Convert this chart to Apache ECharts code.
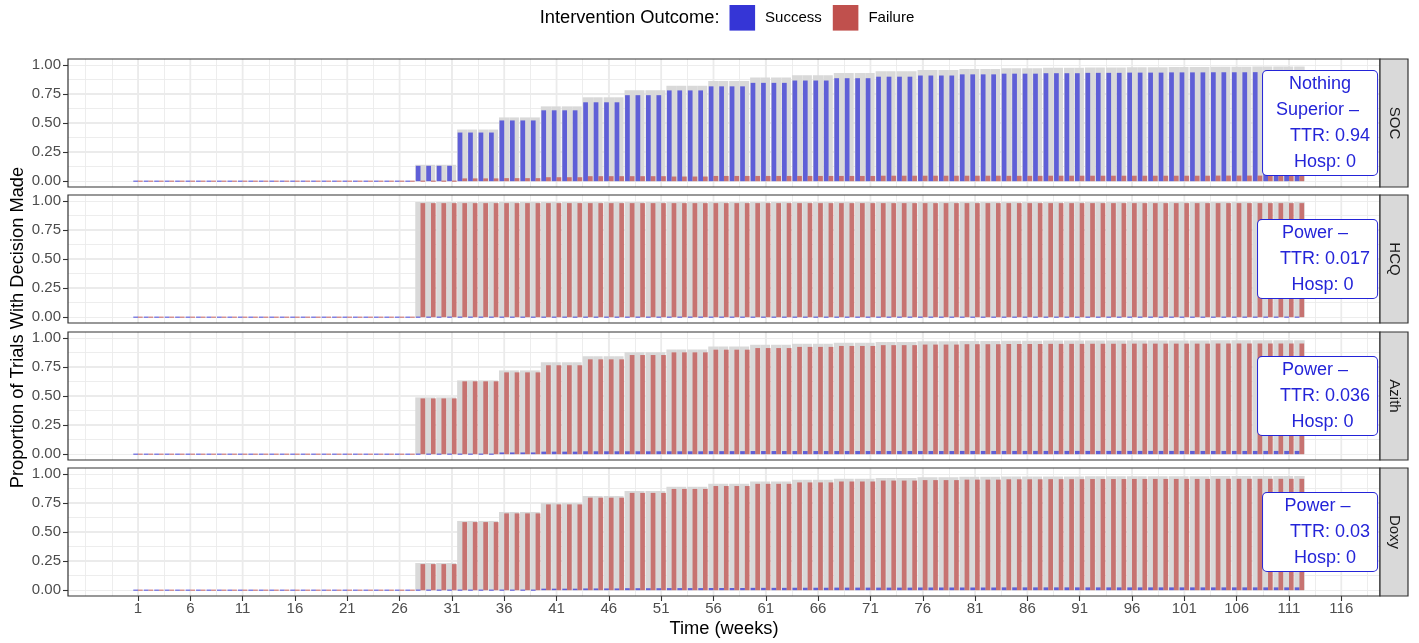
<!DOCTYPE html>
<html>
<head>
<meta charset="utf-8">
<script src="https://cdn.jsdelivr.net/npm/echarts@6/dist/echarts.min.js"></script>
<style>
html,body{margin:0;padding:0;background:#ffffff;}
#chart{width:1419px;height:643px;}
</style>
</head>
<body>
<div id="chart"></div>
<script>
// ---------------- DATA ----------------
const facets = ['SOC', 'HCQ', 'Azith', 'Doxy'];
const firstWeek = 1;
const lastWeek = 112;
// weeks at which a new interim value starts (values constant until the next start)
const periodStartWeeks = [1, 28, 32, 36, 40, 44, 48, 52, 56, 60, 64, 68, 72, 76, 80, 84, 88, 92, 96, 100, 104, 108, 112];

const socTotal   = [0, 0.141, 0.444, 0.548, 0.643, 0.721, 0.782, 0.820, 0.860, 0.890, 0.910, 0.930, 0.945, 0.955, 0.965, 0.970, 0.975, 0.978, 0.980, 0.982, 0.984, 0.985, 0.986];
const socSuccess = [0, 0.132, 0.418, 0.522, 0.609, 0.678, 0.739, 0.780, 0.815, 0.845, 0.865, 0.885, 0.898, 0.908, 0.918, 0.924, 0.928, 0.931, 0.933, 0.935, 0.936, 0.937, 0.938];
const socFailure = [0, 0.006, 0.024, 0.026, 0.034, 0.043, 0.043, 0.040, 0.045, 0.045, 0.045, 0.045, 0.047, 0.047, 0.047, 0.046, 0.047, 0.047, 0.047, 0.047, 0.048, 0.048, 0.048];

const hcqTotal   = [0, 0.990, 0.990, 0.990, 0.990, 0.990, 0.990, 0.990, 0.990, 0.990, 0.990, 0.990, 0.990, 0.990, 0.990, 0.990, 0.990, 0.990, 0.990, 0.990, 0.990, 0.990, 0.990];
const hcqSuccess = [0, 0.008, 0.008, 0.009, 0.009, 0.009, 0.009, 0.009, 0.009, 0.009, 0.009, 0.009, 0.009, 0.009, 0.009, 0.009, 0.009, 0.009, 0.009, 0.009, 0.009, 0.009, 0.009];
const hcqFailure = [0, 0.980, 0.980, 0.980, 0.980, 0.980, 0.980, 0.980, 0.980, 0.980, 0.980, 0.980, 0.980, 0.980, 0.980, 0.980, 0.980, 0.980, 0.980, 0.980, 0.980, 0.980, 0.980];

const azithTotal   = [0, 0.488, 0.634, 0.720, 0.790, 0.841, 0.875, 0.900, 0.925, 0.940, 0.950, 0.958, 0.965, 0.970, 0.973, 0.975, 0.976, 0.977, 0.978, 0.978, 0.979, 0.979, 0.979];
const azithSuccess = [0, 0.005, 0.008, 0.015, 0.022, 0.025, 0.025, 0.025, 0.026, 0.027, 0.027, 0.027, 0.027, 0.027, 0.028, 0.028, 0.028, 0.028, 0.028, 0.028, 0.028, 0.028, 0.028];
const azithFailure = [0, 0.479, 0.626, 0.703, 0.764, 0.815, 0.852, 0.875, 0.898, 0.912, 0.922, 0.930, 0.937, 0.942, 0.945, 0.947, 0.948, 0.949, 0.950, 0.950, 0.951, 0.951, 0.951];

const doxyTotal   = [0, 0.233, 0.595, 0.672, 0.750, 0.810, 0.853, 0.888, 0.914, 0.935, 0.948, 0.957, 0.965, 0.970, 0.974, 0.977, 0.978, 0.979, 0.980, 0.980, 0.981, 0.981, 0.981];
const doxySuccess = [0, 0.004, 0.008, 0.010, 0.013, 0.015, 0.017, 0.018, 0.019, 0.020, 0.021, 0.022, 0.022, 0.023, 0.023, 0.024, 0.024, 0.024, 0.024, 0.024, 0.024, 0.024, 0.024];
const doxyFailure = [0, 0.224, 0.585, 0.660, 0.737, 0.795, 0.836, 0.870, 0.895, 0.914, 0.926, 0.934, 0.942, 0.946, 0.950, 0.953, 0.954, 0.955, 0.956, 0.956, 0.957, 0.957, 0.957];

const socLabel   = ['Nothing', 'Superior \u2013 ', '    TTR: 0.94', '  Hosp: 0'];
const hcqLabel   = ['Power \u2013 ', '   TTR: 0.017', '  Hosp: 0'];
const azithLabel = ['Power \u2013 ', '   TTR: 0.036', '  Hosp: 0'];
const doxyLabel  = ['Power \u2013 ', '    TTR: 0.03', '  Hosp: 0'];

const xTickWeeks = [1, 6, 11, 16, 21, 26, 31, 36, 41, 46, 51, 56, 61, 66, 71, 76, 81, 86, 91, 96, 101, 106, 111, 116];
const yTickValues = [0, 0.25, 0.5, 0.75, 1];

const legendTitle = 'Intervention Outcome:';
const legendNames = ['Success', 'Failure'];
const xTitle = 'Time (weeks)';
const yTitle = 'Proportion of Trials With Decision Made';

// ---------------- STYLE / LAYOUT ----------------
const FONT = '"Liberation Sans", Arial, Helvetica, sans-serif';
const SUCCESS = '#3535D6';
const FAILURE = '#C0504D';
const SUCCESS_FILL = 'rgba(53,53,214,0.75)';
const FAILURE_FILL = 'rgba(192,80,77,0.75)';
const TOTAL_FILL = '#D9D9D9';
const GRID_COLOR = '#EBEBEB';
const LABEL_BLUE = '#2424D8';
const xMin = -5.69, xMax = 119.7, yMin = -0.05, yMax = 1.05;
const labelRightWeek = 119.42, labelY = 0.5;
const G = { left: 68, right: 1380, tops: [59, 195, 332, 468], h: 128, stripW: 28 };

const panelData = [
  { total: socTotal, success: socSuccess, failure: socFailure, label: socLabel },
  { total: hcqTotal, success: hcqSuccess, failure: hcqFailure, label: hcqLabel },
  { total: azithTotal, success: azithSuccess, failure: azithFailure, label: azithLabel },
  { total: doxyTotal, success: doxySuccess, failure: doxyFailure, label: doxyLabel }
];

const weeks = [];
for (let w = firstWeek; w <= lastWeek; w++) weeks.push(w);
function periodIndex(w) {
  let k = 0;
  for (let i = 0; i < periodStartWeeks.length; i++) if (periodStartWeeks[i] <= w) k = i;
  return k;
}
function weekly(arr) { return weeks.map(w => [w, arr[periodIndex(w)]]); }

const measureCtx = document.createElement('canvas').getContext('2d');
const LABEL_FONT_SIZE = 18;
measureCtx.font = LABEL_FONT_SIZE + 'px ' + FONT;

function barRenderer(kind) {
  return function (params, api) {
    const w = api.value(0), v = api.value(1);
    let x0, x1, fill;
    if (kind === 'total') { x0 = w - 0.5; x1 = w + 0.5; fill = TOTAL_FILL; }
    else if (kind === 'success') { x0 = w - 0.45; x1 = w; fill = SUCCESS_FILL; }
    else { x0 = w; x1 = w + 0.45; fill = FAILURE_FILL; }
    const pA = api.coord([x0, 0]);
    const pB = api.coord([x1, v]);
    let h = pA[1] - pB[1];
    let width = pB[0] - pA[0];
    let y = pB[1];
    if (kind === 'total') {
      if (h <= 0) return null;
      if (w % 2 === 1) width -= 1; // white seam every two weeks as in the reference
    } else if (h < 1.2) {
      h = 1.2;
      y = pA[1] - 0.6;
    }
    return { type: 'rect', shape: { x: pA[0], y: y, width: width, height: h }, style: { fill: fill } };
  };
}

function labelRenderer(lines) {
  return function (params, api) {
    const p = api.coord([api.value(0), api.value(1)]);
    const padX = 7;
    let maxW = 0;
    lines.forEach(l => { maxW = Math.max(maxW, measureCtx.measureText(l).width); });
    const boxW = maxW + 2 * padX;
    return {
      type: 'text',
      x: p[0] - boxW / 2,
      y: p[1],
      style: {
        text: lines.join('\n'),
        fill: LABEL_BLUE,
        font: LABEL_FONT_SIZE + 'px ' + FONT,
        align: 'center',
        verticalAlign: 'middle',
        lineHeight: 26,
        backgroundColor: '#ffffff',
        borderColor: LABEL_BLUE,
        borderWidth: 1,
        borderRadius: 4,
        padding: [0, padX, 0, padX]
      }
    };
  };
}

const option = {
  animation: false,
  backgroundColor: '#ffffff',
  textStyle: { fontFamily: FONT },
  grid: [], xAxis: [], yAxis: [], series: [], graphic: [],
  legend: {
    show: true, left: 729.5, top: 5, padding: 0,
    itemWidth: 25.6, itemHeight: 25.6, itemGap: 11, icon: 'rect', selectedMode: false,
    textStyle: { fontSize: 15, color: '#000000', fontFamily: FONT, padding: [0, 0, 0, 5] },
    data: [
      { name: legendNames[0], itemStyle: { color: SUCCESS, opacity: 1 } },
      { name: legendNames[1], itemStyle: { color: FAILURE, opacity: 1 } }
    ]
  }
};

facets.forEach((name, i) => {
  const top = G.tops[i];
  const isBottom = i === facets.length - 1;
  option.grid.push({ left: G.left, top: top, width: G.right - G.left, height: G.h, show: false, containLabel: false });

  option.xAxis.push({
    type: 'value', gridIndex: i, position: 'top', min: xMin - 1, max: xMax - 1, minInterval: 2.5, maxInterval: 2.5,
    axisLine: { show: false, onZero: false }, axisTick: { show: false }, axisLabel: { show: false },
    splitLine: { show: true, showMinLine: false, showMaxLine: false, lineStyle: { color: GRID_COLOR, width: 0.9 } }
  });
  const xMain = option.xAxis.length;
  option.xAxis.push({
    type: 'value', gridIndex: i, position: 'bottom', min: xMin, max: xMax,
    axisLine: { show: false, onZero: false }, splitLine: { show: false },
    axisTick: { show: isBottom, customValues: xTickWeeks, length: 5, lineStyle: { color: '#333333', width: 1.1 } },
    axisLabel: { show: isBottom, customValues: xTickWeeks, margin: 5, color: '#4D4D4D', fontSize: 15, fontFamily: FONT,
      formatter: v => String(v) }
  });

  option.yAxis.push({
    type: 'value', gridIndex: i, position: 'right', min: yMin, max: yMax, minInterval: 0.125, maxInterval: 0.125,
    axisLine: { show: false, onZero: false }, axisTick: { show: false }, axisLabel: { show: false },
    splitLine: { show: true, showMinLine: false, showMaxLine: false, lineStyle: { color: GRID_COLOR, width: 0.9 } }
  });
  const yMain = option.yAxis.length;
  option.yAxis.push({
    type: 'value', gridIndex: i, position: 'left', min: yMin, max: yMax, minInterval: 0.25, maxInterval: 0.25,
    axisLine: { show: false, onZero: false },
    splitLine: { show: true, showMinLine: false, showMaxLine: false, lineStyle: { color: GRID_COLOR, width: 1.8 } },
    axisTick: { show: true, customValues: yTickValues, length: 5, lineStyle: { color: '#333333', width: 1.1 } },
    axisLabel: { show: true, customValues: yTickValues, margin: 7, color: '#4D4D4D', fontSize: 15, fontFamily: FONT,
      formatter: v => Number(v).toFixed(2) }
  });

  const pd = panelData[i];
  // major vertical grid lines at the labelled weeks
  option.series.push({
    type: 'custom', name: 'grid-' + name, xAxisIndex: xMain, yAxisIndex: yMain, silent: true,
    data: xTickWeeks.map(w => [w, 0]),
    renderItem: (params, api) => {
      const a = api.coord([api.value(0), yMin]);
      const b = api.coord([api.value(0), yMax]);
      return { type: 'line', shape: { x1: a[0], y1: a[1], x2: b[0], y2: b[1] }, style: { stroke: GRID_COLOR, lineWidth: 1.8 } };
    }
  });
  option.series.push({ type: 'custom', name: 'total-' + name, xAxisIndex: xMain, yAxisIndex: yMain, silent: true,
    data: weekly(pd.total), renderItem: barRenderer('total') });
  option.series.push({ type: 'custom', name: legendNames[0], xAxisIndex: xMain, yAxisIndex: yMain, silent: true,
    itemStyle: { color: SUCCESS }, data: weekly(pd.success), renderItem: barRenderer('success') });
  option.series.push({ type: 'custom', name: legendNames[1], xAxisIndex: xMain, yAxisIndex: yMain, silent: true,
    itemStyle: { color: FAILURE }, data: weekly(pd.failure), renderItem: barRenderer('failure') });
  option.series.push({ type: 'custom', name: 'label-' + name, xAxisIndex: xMain, yAxisIndex: yMain, silent: true,
    data: [[labelRightWeek, labelY]], renderItem: labelRenderer(pd.label) });

  // panel border
  option.graphic.push({ type: 'rect', z: 100, silent: true,
    shape: { x: G.left, y: top, width: G.right - G.left, height: G.h },
    style: { fill: 'none', stroke: '#333333', lineWidth: 1.2 } });
  // strip
  option.graphic.push({ type: 'rect', z: 100, silent: true,
    shape: { x: G.right, y: top, width: G.stripW, height: G.h },
    style: { fill: '#D9D9D9', stroke: '#333333', lineWidth: 1.2 } });
  option.graphic.push({ type: 'text', z: 101, silent: true,
    x: G.right + G.stripW / 2, y: top + G.h / 2, rotation: -Math.PI / 2,
    style: { text: name, fill: '#1A1A1A', font: '15px ' + FONT, align: 'center', verticalAlign: 'middle' } });
});

option.graphic.push({ type: 'text', z: 101, silent: true, x: 719.5, y: 18,
  style: { text: legendTitle, fill: '#000000', font: '18.3px ' + FONT, align: 'right', verticalAlign: 'middle' } });
option.graphic.push({ type: 'text', z: 101, silent: true, x: (G.left + G.right) / 2, y: 629,
  style: { text: xTitle, fill: '#000000', font: '18.3px ' + FONT, align: 'center', verticalAlign: 'middle' } });
option.graphic.push({ type: 'text', z: 101, silent: true, x: 18, y: (G.tops[0] + G.tops[3] + G.h) / 2, rotation: Math.PI / 2,
  style: { text: yTitle, fill: '#000000', font: '18.3px ' + FONT, align: 'center', verticalAlign: 'middle' } });

const chart = echarts.init(document.getElementById('chart'), null, { renderer: 'canvas' });
chart.setOption(option);
</script>
</body>
</html>
